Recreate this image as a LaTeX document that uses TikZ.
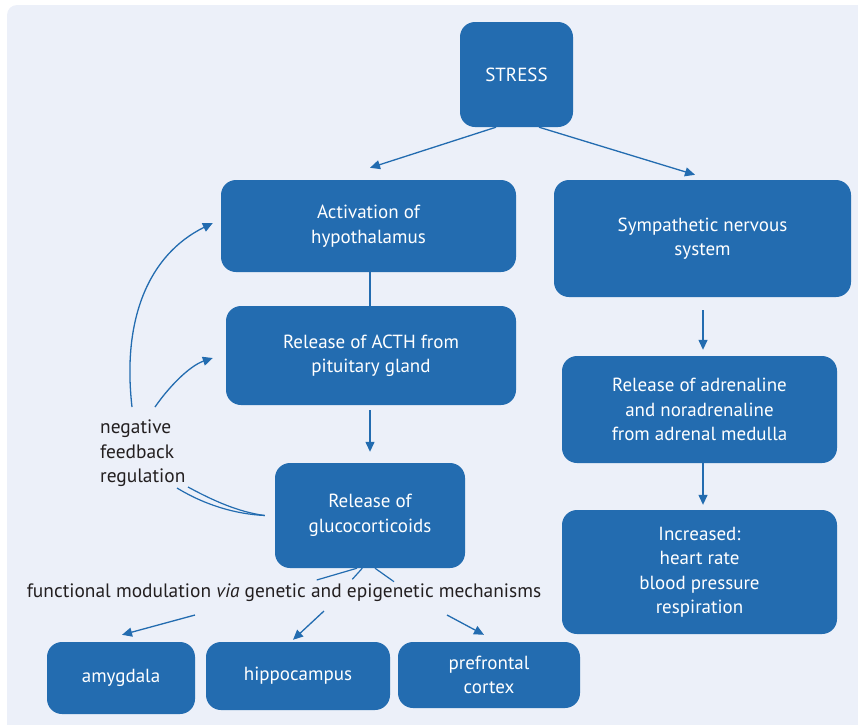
\documentclass[tikz,border=0pt]{standalone}
\usepackage{fontspec}
\setmainfont{PT Sans}
\usetikzlibrary{arrows.meta}
\definecolor{bgc}{HTML}{ECF0F9}
\definecolor{boxc}{HTML}{236CB0}
\definecolor{txtc}{HTML}{231F20}
\tikzset{
  box/.style={fill=boxc, draw=none, rounded corners=15pt, text=white, align=center,
    inner sep=0pt, font=\fontsize{19}{24.5}\selectfont},
  arr/.style={draw=boxc, line width=1.3pt, -{Triangle[length=10pt,width=9pt]}},
  ln/.style={draw=boxc, line width=1.2pt},
  lbl/.style={text=txtc, inner sep=0pt, font=\fontsize{19.4}{24.5}\selectfont}
}
\begin{document}
\begin{tikzpicture}[x=1pt,y=-1pt]
\path[use as bounding box] (0,0) rectangle (858,724);
\clip (0,0) rectangle (858,724);
\fill[bgc, rounded corners=10pt] (7,5) rectangle (880,745);

\node[box, minimum width=113pt, minimum height=105pt] (stress) at (516.5,74.5) {STRESS};
\node[box, minimum width=295pt, minimum height=92pt] (hyp) at (368.5,226) {Activation of\\hypothalamus};
\node[box, minimum width=297pt, minimum height=117pt] (symp) at (702.5,238.5) {Sympathetic nervous\\system};
\node[box, minimum width=290pt, minimum height=99pt] (acth) at (371,355.5) {Release of ACTH from\\pituitary gland};
\node[box, minimum width=275pt, minimum height=107pt] (adr) at (699.5,409.5) {Release of adrenaline\\and noradrenaline\\from adrenal medulla};
\node[box, minimum width=275pt, minimum height=124pt] (inc) at (699.5,572) {Increased:\\heart rate\\blood pressure\\respiration};
\node[box, minimum width=190pt, minimum height=105pt] (gluc) at (370,515.5) {Release of\\glucocorticoids};
\node[box, minimum width=148pt, minimum height=72pt] (amy) at (121,678) {amygdala};
\node[box, minimum width=184pt, minimum height=68pt] (hip) at (298,676) {hippocampus};
\node[box, minimum width=182pt, minimum height=66pt] (pfc) at (489,675) {prefrontal\\cortex};

\node[lbl, align=left, anchor=west] (neg) at (100,453.5) {negative\\feedback\\regulation};
\node[lbl] (func) at (284,593) {functional modulation \emph{via} genetic and epigenetic mechanisms};

% main arrows
\draw[arr] ([xshift=-20.5pt]stress.south) -- ([xshift=1.5pt,yshift=12pt]hyp.north);
\draw[arr] ([xshift=22.5pt]stress.south) -- ([xshift=-7.5pt,yshift=5pt]symp.north);
\draw[ln] ([xshift=1.5pt]hyp.south) -- ([xshift=1.5pt]hyp.south |- acth.north);
\draw[arr] ([xshift=-1pt,yshift=-5pt]acth.south) -- ([yshift=11pt]gluc.north);
\draw[arr] ([xshift=0.5pt,yshift=-13pt]symp.south) -- ([xshift=0.5pt,yshift=6pt]symp.south |- adr.north);
\draw[arr] ([xshift=3.5pt]adr.south) -- ([xshift=3.5pt,yshift=5pt]adr.south |- inc.north);

% feedback
\coordinate (f1) at (132,407);
\coordinate (f2) at (155,407);
\coordinate (f3) at (177,488);
\coordinate (f4) at (188,487);
\coordinate (gl) at ([xshift=-10pt]gluc.west);
\draw[arr] (f1) .. controls (122,320) and (148,255) .. ([xshift=-8pt,yshift=3pt]hyp.west);
\draw[arr] (f2) .. controls (168,388) and (189,366) .. ([xshift=-13pt,yshift=-2.5pt]acth.west);
\draw[ln] (f3) .. controls (205,505) and (235,514) .. (gl);
\draw[ln] (f4) .. controls (212,500) and (238,512) .. (gl);

% modulation
\coordinate (m1) at (316.7,580);
\coordinate (m2) at (352.3,579.3);
\coordinate (m3) at (394,581.7);
\draw[ln] ([xshift=-13pt]gluc.south) -- (m1);
\draw[ln] ([xshift=-7.7pt]gluc.south) -- (m2);
\draw[ln] ([xshift=5pt]gluc.south) -- (m3);

\coordinate (a1) at (195,615);
\coordinate (a2) at (324,611);
\coordinate (a3) at (447,615);
\draw[arr] (a1) -- ([xshift=1pt,yshift=7pt]amy.north);
\draw[arr] (a2) -- ([xshift=-5pt,yshift=2pt]hip.north);
\draw[arr] (a3) -- ([xshift=-5pt,yshift=7pt]pfc.north);
\end{tikzpicture}
\end{document}
